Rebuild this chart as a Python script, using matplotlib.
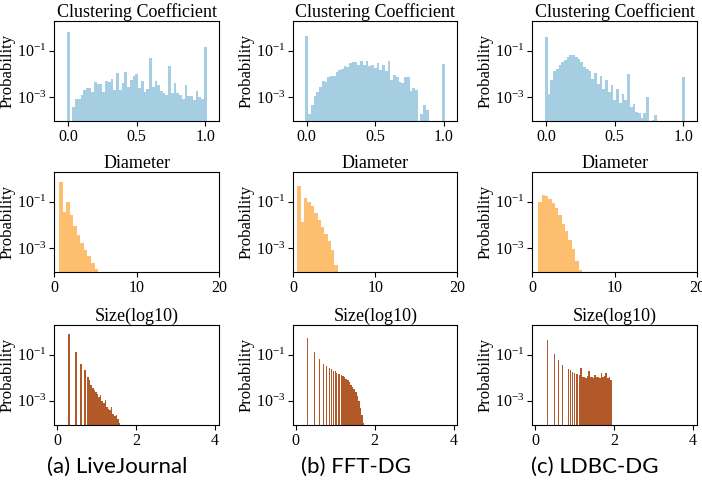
import numpy as np
import matplotlib
matplotlib.use("Agg")
import matplotlib.pyplot as plt

plt.rcParams['font.family'] = ['Liberation Serif', 'DejaVu Serif']
plt.rcParams['mathtext.fontset'] = 'stix'

# ---------------- data (log10 of probability; None = empty bin) ----------------
# Clustering coefficient: bins centred at 0.00, 0.02, ..., 1.00
cc_bin_width = 0.02
cc_livejournal = [-0.21, None, -3.42, -3.08, -3.10, -2.93, -2.72, -2.62, -2.60, -2.78,
                  -2.37, -2.45, -2.42, -2.80, -2.30, -2.35, -2.22, -2.70, -1.96, -2.70,
                  -2.40, -1.94, -2.55, -2.25, -2.10, -2.01, -2.62, -2.30, -2.80, -2.65,
                  -1.32, -2.58, -2.30, -2.50, -2.75, -2.85, -2.90, -1.68, -2.85, -2.40,
                  -2.85, -2.90, -3.10, -2.47, -2.95, -2.95, -3.12, -2.73, -3.00, -3.08,
                  -0.86]
cc_fftdg = [-0.38, -3.73, -3.36, -2.97, -2.78, -2.58, -2.32, -2.37, -2.15, -2.11,
            -2.11, -1.92, -1.82, -1.79, -1.65, -1.72, -1.53, -1.50, -1.50, -1.60,
            -1.46, -1.60, -1.46, -1.65, -1.60, -1.75, -1.53, -1.82, -1.60, -1.86,
            -1.43, -2.25, -2.04, -2.15, -2.37, -2.41, -2.12, -2.15, -2.73, -2.61,
            -2.68, None, -3.75, -3.36, -3.55, None, None, None, None, None,
            -1.58]
cc_ldbcdg = [-0.43, -2.86, -2.29, -1.89, -1.79, -1.64, -1.47, -1.40, -1.29, -1.21,
             -1.19, -1.26, -1.36, -1.50, -1.69, -1.79, -1.89, -2.23, -1.97, -2.43,
             -2.11, -2.64, -2.29, -2.79, -2.50, -3.14, -2.64, -3.26, -2.86, -3.14,
             -2.00, -3.43, -3.31, -3.64, -3.71, -3.93, -3.71, -3.00, None, -4.00,
             -3.79, None, None, None, None, None, None, None, None, None,
             -2.14]

# Diameter: first bin edge and contiguous bins
diam_livejournal_start = 0.57
diam_livejournal_width = 0.43
diam_livejournal = [-0.14, -1.43, -1.00, -1.57, -2.07, -2.43, -2.79, -3.07, -3.36, -3.64, -3.93]
diam_fftdg_start = 0.53
diam_fftdg_width = 0.41
diam_fftdg = [-0.31, -1.86, -0.83, -1.00, -1.21, -1.50, -1.79, -2.11, -2.40, -2.71, -3.11, -3.74]
diam_ldbcdg_start = 0.69
diam_ldbcdg_width = 0.41
diam_ldbcdg = [-1.00, -0.71, -0.76, -0.89, -1.07, -1.29, -1.57, -1.97, -2.29, -2.64, -3.04, -3.57, -3.97]

# Size (log10): isolated spikes + contiguous block of bins
size_livejournal_spike_x = [0.30, 0.48, 0.60, 0.70]
size_livejournal_spike_p = [-0.11, -0.88, -1.39, -1.69]
size_livejournal_block_start = 0.76
size_livejournal_block = [-1.98, -2.10, -2.30, -2.45, -2.55, -2.60, -2.70, -2.85, -2.75, -3.00,
                          -3.10, -2.95, -3.25, -3.35, -3.40, -3.25, -3.55, -3.65, -3.60, -3.80,
                          -3.95, -4.10]
size_fftdg_spike_x = [0.30, 0.48, 0.60, 0.70, 0.78, 0.85, 0.90, 0.95, 1.00, 1.04, 1.08, 1.11, 1.15]
size_fftdg_spike_p = [-0.27, -0.91, -1.20, -1.42, -1.51, -1.58, -1.64, -1.72, -1.73, -1.79, -1.83, -1.86, -1.90]
size_fftdg_block_start = 1.18
size_fftdg_block = [-1.92, -1.97, -2.05, -2.12, -2.20, -2.30, -2.40, -2.50, -2.62, -2.80,
                    -3.00, -3.30, -3.60, -3.95, -4.10]
size_ldbcdg_spike_x = [0.30, 0.48, 0.60, 0.70, 0.78, 0.85, 0.90, 0.95, 1.00, 1.04, 1.08, 1.11]
size_ldbcdg_spike_p = [-0.37, -0.96, -1.25, -1.47, -1.54, -1.61, -1.69, -1.76, -1.80, -1.83, -1.86, -1.88]
size_ldbcdg_block_start = 1.14
size_ldbcdg_block = [-1.58, -1.95, -1.98, -2.00, -1.92, -1.70, -1.98, -1.95, -2.02, -1.90,
                     -1.98, -1.96, -2.00, -1.80, -1.98, -1.93, -1.78, -2.00, -1.95, -2.10]

titles = ["Clustering Coefficient", "Diameter", "Size(log10)"]
captions = ["(a) LiveJournal", "(b) FFT-DG", "(c) LDBC-DG"]
colors = ["#a6cee3", "#fdbf6f", "#b15928"]


def to_prob(vals):
    return np.array([0.0 if v is None else 10.0 ** v for v in vals])


fig = plt.figure(figsize=(7.02, 4.87), dpi=100)
lefts = [0.0776, 0.4174, 0.7585]
bottoms = [0.751, 0.441, 0.127]
W, H = 0.2343, 0.205

cc_data = [cc_livejournal, cc_fftdg, cc_ldbcdg]
diam_data = [(diam_livejournal_start, diam_livejournal_width, diam_livejournal),
             (diam_fftdg_start, diam_fftdg_width, diam_fftdg),
             (diam_ldbcdg_start, diam_ldbcdg_width, diam_ldbcdg)]
size_data = [(size_livejournal_spike_x, size_livejournal_spike_p, size_livejournal_block_start, size_livejournal_block, 0.04),
             (size_fftdg_spike_x, size_fftdg_spike_p, size_fftdg_block_start, size_fftdg_block, 0.025),
             (size_ldbcdg_spike_x, size_ldbcdg_spike_p, size_ldbcdg_block_start, size_ldbcdg_block, 0.025)]

ylim = (10 ** -4.05, 10 ** 0.26)

for c in range(3):
    for r in range(3):
        ax = fig.add_axes([lefts[c], bottoms[r], W, H])
        if r == 0:
            p = to_prob(cc_data[c])
            x = np.arange(len(p)) * cc_bin_width
            ax.bar(x, p, width=cc_bin_width, color=colors[0], linewidth=0)
            ax.set_xlim(-0.1, 1.1)
            ax.set_xticks([0.0, 0.5, 1.0])
        elif r == 1:
            start, w, vals = diam_data[c]
            p = to_prob(vals)
            x = start + np.arange(len(p)) * w
            ax.bar(x, p, width=w, align='edge', color=colors[1], linewidth=0)
            ax.set_xlim(0, 20)
            ax.set_xticks([0, 10, 20])
        else:
            sx, sp, bstart, bvals, sw = size_data[c]
            ax.bar(sx, to_prob(sp), width=sw, color=colors[2], linewidth=0)
            bw = 0.04
            p = to_prob(bvals)
            x = bstart + np.arange(len(p)) * bw
            ax.bar(x, p, width=bw, align='edge', color=colors[2], linewidth=0)
            ax.set_xlim(-0.07, 4.1)
            ax.set_xticks([0, 2, 4])
        ax.set_yscale('log')
        ax.set_ylim(*ylim)
        ax.set_yticks([1e-3, 1e-1])
        ax.yaxis.set_minor_locator(matplotlib.ticker.NullLocator())
        ax.set_title(titles[r], fontsize=13, pad=3)
        ax.set_ylabel("Probability", fontsize=12, labelpad=1)
        ax.tick_params(labelsize=11.5, length=3.5, pad=2)
    fig.text(lefts[c] + W / 2 - 0.028, 0.042, captions[c], ha='center', va='center',
             fontsize=16, family=['Lato', 'DejaVu Sans'])

fig.savefig("out.png", dpi=100)
